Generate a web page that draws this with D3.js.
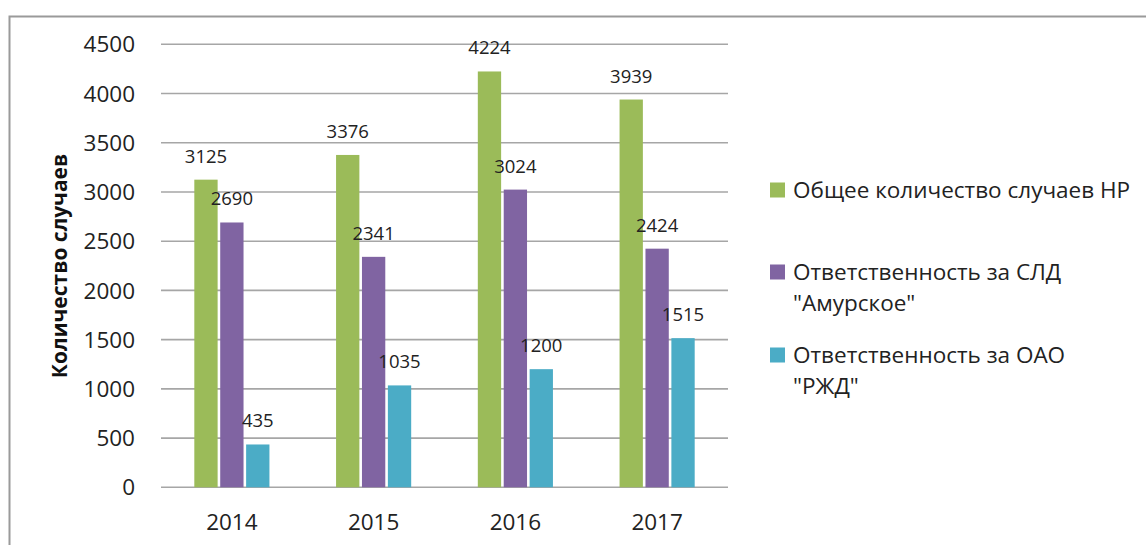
<!DOCTYPE html>
<html>
<head>
<meta charset="utf-8">
<script src="https://cdn.jsdelivr.net/npm/d3@7"></script>
<style>
  body { margin: 0; background: #fff; }
  svg { display: block; font-family: "Open Sans", sans-serif; }
</style>
</head>
<body>
<svg id="chart" width="1146" height="545"></svg>
<script>
// data
const years = ['2014', '2015', '2016', '2017'];
const seriesNames = ['Общее количество случаев НР', 'Ответственность за СЛД "Амурское"', 'Ответственность за ОАО "РЖД"'];
const totalCases = [3125, 3376, 4224, 3939];
const sldCases = [2690, 2341, 3024, 2424];
const rzdCases = [435, 1035, 1200, 1515];
const yTicks = [0, 500, 1000, 1500, 2000, 2500, 3000, 3500, 4000, 4500];
const colors = ['#9bbb59', '#8064a2', '#4bacc6'];

const legendLines = [
    ['Общее количество случаев НР'],
    ['Ответственность за СЛД', '"Амурское"'],
    ['Ответственность за ОАО', '"РЖД"']
];

const svg = d3.select('#chart');
const seriesValues = [totalCases, sldCases, rzdCases];

// frame (only left and top edges are visible in the crop)
svg.append('path')
    .attr('d', 'M9.5,545 V16.5 H1146')
    .attr('fill', 'none')
    .attr('stroke', '#9a9a9a')
    .attr('stroke-width', 2);

const plotLeft = 161, plotRight = 728, plotTop = 44.3, plotBottom = 487.3;

const y = d3.scaleLinear().domain([0, 4500]).range([plotBottom, plotTop]);
const x0 = d3.scaleBand().domain(years).range([plotLeft, plotRight]).paddingInner(0.47).paddingOuter(0.235);
const x1 = d3.scaleBand().domain(d3.range(3)).range([0, x0.bandwidth()]).paddingInner(0.1);

// gridlines
svg.append('g').selectAll('line')
    .data(yTicks)
    .enter().append('line')
    .attr('x1', plotLeft).attr('x2', plotRight)
    .attr('y1', d => y(d)).attr('y2', d => y(d))
    .attr('stroke', '#a6a6a6')
    .attr('stroke-width', 1.6);

// y tick labels
svg.append('g').selectAll('text')
    .data(yTicks)
    .enter().append('text')
    .attr('x', 135)
    .attr('y', d => y(d))
    .attr('dy', '0.36em')
    .attr('text-anchor', 'end')
    .attr('font-size', 22.5)
    .attr('fill', '#222')
    .text(d => d);

// x labels
svg.append('g').selectAll('text')
    .data(years)
    .enter().append('text')
    .attr('x', d => x0(d) + x0.bandwidth() / 2)
    .attr('y', 530)
    .attr('text-anchor', 'middle')
    .attr('font-size', 22.5)
    .attr('fill', '#222')
    .text(d => d);

// y axis title
svg.append('text')
    .attr('transform', 'translate(67,266) rotate(-90)')
    .attr('text-anchor', 'middle')
    .attr('font-size', 21)
    .attr('font-weight', 'bold')
    .attr('fill', '#111')
    .text('Количество случаев');

// bars
const groups = svg.append('g').selectAll('g')
    .data(years)
    .enter().append('g')
    .attr('transform', d => `translate(${x0(d)},0)`);

groups.selectAll('rect')
    .data((d, i) => seriesValues.map((vals, s) => ({ s: s, v: vals[i] })))
    .enter().append('rect')
    .attr('x', d => x1(d.s))
    .attr('y', d => y(d.v))
    .attr('width', x1.bandwidth())
    .attr('height', d => plotBottom - y(d.v))
    .attr('fill', d => colors[d.s]);

groups.selectAll('text')
    .data((d, i) => seriesValues.map((vals, s) => ({ s: s, v: vals[i] })))
    .enter().append('text')
    .attr('x', d => x1(d.s) + x1.bandwidth() / 2)
    .attr('y', d => y(d.v) - 17)
    .attr('text-anchor', 'middle')
    .attr('font-size', 18.5)
    .attr('fill', '#222')
    .text(d => d.v);

// legend
const legendTop = [190, 272, 355];
const legend = svg.append('g').selectAll('g')
    .data(seriesNames)
    .enter().append('g')
    .attr('transform', (d, i) => `translate(770,${legendTop[i]})`);

legend.append('rect')
    .attr('x', 0).attr('y', -7.5)
    .attr('width', 15).attr('height', 15)
    .attr('fill', (d, i) => colors[i]);

legend.append('text')
    .attr('x', 23)
    .attr('font-size', 22.5)
    .attr('fill', '#222')
    .selectAll('tspan')
    .data((d, i) => legendLines[i])
    .enter().append('tspan')
    .attr('x', 23)
    .attr('y', (d, j) => j * 31)
    .attr('dy', '0.36em')
    .text(d => d);
</script>
</body>
</html>
